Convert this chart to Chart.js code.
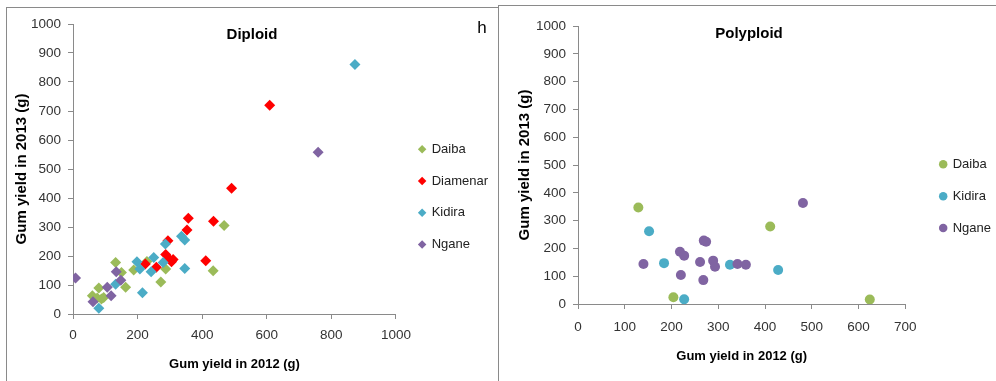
<!DOCTYPE html>
<html>
<head>
<meta charset="utf-8">
<script src="https://cdn.jsdelivr.net/npm/chart.js@4.4.1/dist/chart.umd.min.js"></script>
<style>
  html, body { margin: 0; padding: 0; background: #fff; overflow: hidden; }
  body { width: 996px; height: 381px; position: relative; }
  .panel { position: absolute; background: #fff; border-left: 1px solid #8a8a8a; border-top: 1px solid #8a8a8a; overflow: hidden; }
  #left { left: 6px; top: 7px; width: 492px; height: 374px; }
  #right { left: 498px; top: 5px; width: 498px; height: 376px; }
  canvas { position: absolute; left: 0; top: 0; }
</style>
</head>
<body>
<div class="panel" id="left"><canvas id="diploid" width="491" height="374"></canvas></div>
<div class="panel" id="right"><canvas id="polyploid" width="502" height="376"></canvas></div>
<script>
// Diploid panel: gum yield 2012 (x) vs 2013 (y)
const daibaD2012 = [60, 80, 75, 88, 95, 132, 150, 163, 188, 229, 272, 287, 434, 468];
const daibaD2013 = [63, 90, 55, 52, 57, 178, 143, 92, 152, 181, 110, 155, 149, 305];
const diamenarD2012 = [224, 258, 287, 294, 298, 305, 310, 353, 357, 411, 435, 491, 609];
const diamenarD2013 = [172, 161, 205, 253, 190, 180, 188, 290, 330, 184, 320, 434, 720];
const kidiraD2012 = [80, 132, 198, 207, 215, 242, 250, 279, 286, 336, 346, 346, 873];
const kidiraD2013 = [20, 103, 180, 155, 73, 146, 195, 178, 241, 268, 255, 157, 860];
const nganeD2012 = [8, 62, 106, 118, 134, 148, 759];
const nganeD2013 = [124, 42, 92, 63, 146, 116, 558];

// Polyploid panel
const daibaP2012 = [129, 204, 411, 624];
const daibaP2013 = [347, 24, 279, 16];
const kidiraP2012 = [152, 184, 227, 325, 428];
const kidiraP2013 = [262, 147, 17, 141, 122];
const nganeP2012 = [140, 218, 227, 220, 261, 269, 274, 268, 289, 293, 341, 359, 481];
const nganeP2013 = [144, 188, 174, 104, 151, 228, 224, 86, 156, 134, 144, 141, 363];

const xTitle = 'Gum yield in 2012 (g)';
const yTitle = 'Gum yield in 2013 (g)';

const colors = {
  Daiba: '#9bbb59',
  Diamenar: '#ff0000',
  Kidira: '#4bacc6',
  Ngane: '#8064a2'
};

const sans = "'Liberation Sans', Arial, sans-serif";

// pairs the x and y lists into {x, y} points
function toPoints(xs, ys) {
  return xs.map((x, i) => ({ x: x, y: ys[i] }));
}

function makeSet(label, xs, ys, style, order) {
  return {
    label: label,
    data: toPoints(xs, ys),
    backgroundColor: colors[label],
    borderWidth: 0,
    pointStyle: style,
    pointRadius: style === 'rectRot' ? 5.5 : 5,
    pointHoverRadius: 5,
    order: order
  };
}

// draws the panel titles inside the plot
const panelText = {
  id: 'panelText',
  afterDraw(chart, args, opts) {
    const ctx = chart.ctx;
    (opts.items || []).forEach(t => {
      ctx.save();
      ctx.font = t.font;
      ctx.fillStyle = '#000';
      ctx.textAlign = 'center';
      ctx.textBaseline = 'middle';
      ctx.fillText(t.text, t.x, t.y);
      ctx.restore();
    });
  }
};

function makeOptions(cfg) {
  return {
    responsive: false,
    animation: false,
    layout: { autoPadding: false, padding: { top: cfg.top, left: 0, right: 0, bottom: 0 } },
    plugins: {
      legend: {
        position: 'right',
        align: 'start',
        maxWidth: 200,
        title: { display: true, text: '', font: { size: 1 }, padding: { top: cfg.legendTop, bottom: 0 } },
        labels: {
          usePointStyle: true,
          boxWidth: 6,
          boxHeight: 6,
          padding: cfg.legendPad,
          color: '#222',
          font: { family: sans, size: 13 },
          sort: (a, b) => a.datasetIndex - b.datasetIndex
        }
      },
      tooltip: { enabled: false },
      panelText: { items: cfg.texts }
    },
    scales: {
      x: {
        type: 'linear',
        min: 0,
        max: cfg.xMax,
        ticks: { stepSize: cfg.xStep, padding: cfg.xPad, color: '#333', font: { family: sans, size: 13.5 }, callback: v => String(v) },
        grid: { drawOnChartArea: false, tickLength: 5, color: '#8a8a8a' },
        border: { color: '#8a8a8a' },
        title: { display: true, text: xTitle, color: '#000', font: { family: sans, size: 13, weight: 'bold' }, padding: { top: 0, bottom: cfg.xTitlePad } },
        afterFit: s => { s.height = cfg.xHeight; }
      },
      y: {
        type: 'linear',
        min: 0,
        max: 1000,
        ticks: { stepSize: 100, padding: 7, color: '#333', font: { family: sans, size: 13.5 }, callback: v => String(v) },
        grid: { drawOnChartArea: false, tickLength: 5, color: '#8a8a8a' },
        border: { color: '#8a8a8a' },
        title: { display: true, text: yTitle, color: '#000', font: { family: sans, size: 15, weight: 'bold' }, padding: { top: cfg.yTitlePad, bottom: 0 } },
        afterFit: s => { s.width = cfg.yWidth; }
      },
      // empty spacer between the plot and the legend
      gap: {
        type: 'linear',
        axis: 'y',
        position: 'right',
        display: true,
        ticks: { display: false },
        grid: { display: false },
        border: { display: false },
        afterFit: s => { s.width = cfg.gap; }
      }
    }
  };
}

new Chart(document.getElementById('diploid'), {
  type: 'scatter',
  data: {
    datasets: [
      makeSet('Daiba', daibaD2012, daibaD2013, 'rectRot', 4),
      makeSet('Diamenar', diamenarD2012, diamenarD2013, 'rectRot', 3),
      makeSet('Kidira', kidiraD2012, kidiraD2013, 'rectRot', 2),
      makeSet('Ngane', nganeD2012, nganeD2013, 'rectRot', 1)
    ]
  },
  options: makeOptions({
    top: 16, xMax: 1000, xStep: 200, xPad: 8.5, xHeight: 68, xTitlePad: 10,
    yWidth: 66, yTitlePad: 6, legendPad: 18.7, legendTop: 98.9, gap: 4.5,
    texts: [
      { text: 'Diploid', x: 245, y: 27, font: 'bold 15px ' + sans },
      { text: 'h', x: 475, y: 20, font: '17px ' + sans }
    ]
  }),
  plugins: [panelText]
});

new Chart(document.getElementById('polyploid'), {
  type: 'scatter',
  data: {
    datasets: [
      makeSet('Daiba', daibaP2012, daibaP2013, 'circle', 3),
      makeSet('Kidira', kidiraP2012, kidiraP2013, 'circle', 2),
      makeSet('Ngane', nganeP2012, nganeP2013, 'circle', 1)
    ]
  },
  options: makeOptions({
    top: 20, xMax: 700, xStep: 100, xPad: 10, xHeight: 78, xTitlePad: 18,
    yWidth: 79, yTitlePad: 17, legendPad: 18.85, legendTop: 111.75, gap: 16,
    texts: [
      { text: 'Polyploid', x: 250, y: 28, font: 'bold 15px ' + sans }
    ]
  }),
  plugins: [panelText]
});
</script>
</body>
</html>
